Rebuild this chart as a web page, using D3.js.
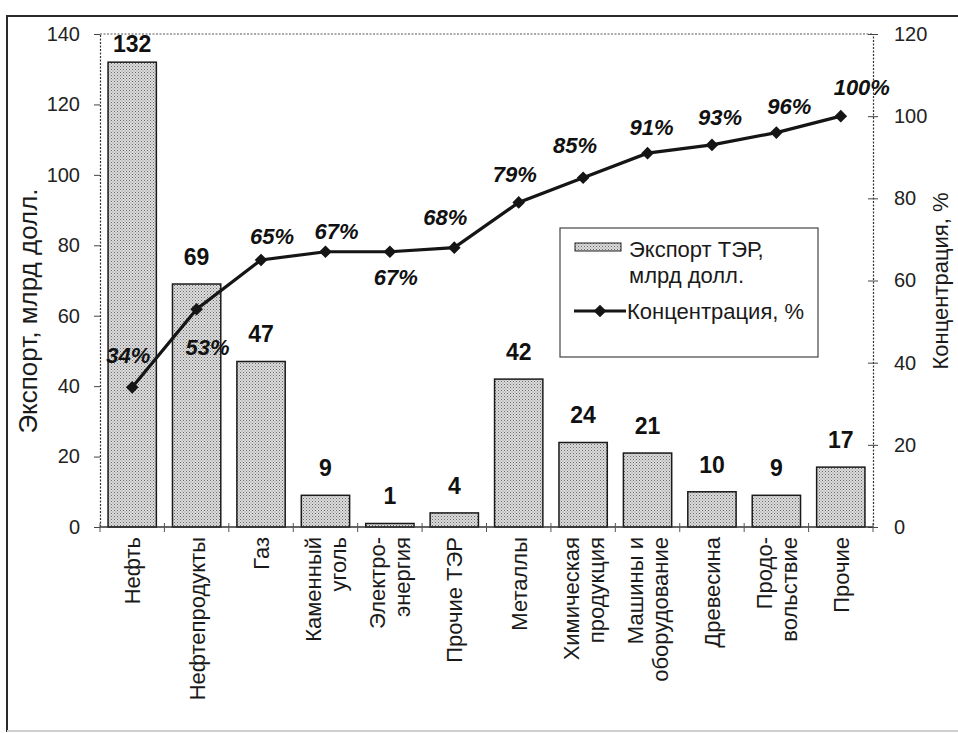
<!DOCTYPE html>
<html>
<head>
<meta charset="utf-8">
<script src="https://cdn.jsdelivr.net/npm/d3@7"></script>
<style>
  html, body { margin: 0; padding: 0; background: #fff; }
  svg { display: block; font-family: "Liberation Sans", Arial, sans-serif; }
</style>
</head>
<body>
<svg id="chart" width="958" height="733"></svg>
<script>
// Category names (each entry: label lines)
const categories = [
  ["Нефть"],
  ["Нефтепродукты"],
  ["Газ"],
  ["Каменный", "уголь"],
  ["Электро-", "энергия"],
  ["Прочие ТЭР"],
  ["Металлы"],
  ["Химическая", "продукция"],
  ["Машины и", "оборудование"],
  ["Древесина"],
  ["Продо-", "вольствие"],
  ["Прочие"]
];
// Export, bn USD
const exportValues = [132, 69, 47, 9, 1, 4, 42, 24, 21, 10, 9, 17];
// Cumulative concentration, %
const concentration = [34, 53, 65, 67, 67, 68, 79, 85, 91, 93, 96, 100];
const leftTicks = [0, 20, 40, 60, 80, 100, 120, 140];
const rightTicks = [0, 20, 40, 60, 80, 100, 120];
const barLegend = ["Экспорт ТЭР,", "млрд долл."];
const lineLegend = "Концентрация, %";
const leftTitle = "Экспорт, млрд долл.";
const rightTitle = "Концентрация, %";

const svg = d3.select("#chart");

// frame around the whole figure
svg.append("rect").attr("x", 7).attr("y", 16).attr("width", 960).attr("height", 715)
  .attr("fill", "none").attr("stroke", "#2a2a2a").attr("stroke-width", 2);
svg.append("line").attr("x1", 7).attr("x2", 958).attr("y1", 731).attr("y2", 731)
  .attr("stroke", "#cfcfcf").attr("stroke-width", 2);

// dotted fill for bars
const defs = svg.append("defs");
const pat = defs.append("pattern").attr("id", "dots").attr("patternUnits", "userSpaceOnUse")
  .attr("width", 3).attr("height", 3);
pat.append("rect").attr("width", 3).attr("height", 3).attr("fill", "#dcdcdc");
pat.append("rect").attr("x", 0).attr("y", 0).attr("width", 1).attr("height", 1).attr("fill", "#6a6a6a");
pat.append("rect").attr("x", 1.5).attr("y", 1.5).attr("width", 1).attr("height", 1).attr("fill", "#8a8a8a");

const plot = { left: 100, right: 873, top: 34, bottom: 527 };

const x = d3.scaleBand().domain(d3.range(categories.length))
  .range([plot.left, plot.right]).paddingInner(0.25).paddingOuter(0.125);
const yL = d3.scaleLinear().domain([0, 140]).range([plot.bottom, plot.top]);
const yR = d3.scaleLinear().domain([0, 120]).range([plot.bottom, plot.top]);

// plot area outline (dotted top and sides)
const dotted = "2,1.5";
svg.append("line").attr("x1", plot.left).attr("x2", plot.right).attr("y1", plot.top).attr("y2", plot.top)
  .attr("stroke", "#555").attr("stroke-width", 1).attr("stroke-dasharray", dotted);

// left axis
const gL = svg.append("g").attr("transform", `translate(${plot.left},0)`)
  .call(d3.axisLeft(yL).tickValues(leftTicks).tickSize(6).tickPadding(14));
gL.select(".domain").attr("stroke", "#333").attr("stroke-dasharray", dotted).attr("stroke-width", 1.2);
gL.selectAll(".tick line").attr("stroke", "#444");
gL.selectAll(".tick text").attr("font-size", 20).attr("fill", "#222")
  .attr("font-family", "Liberation Sans, Arial, sans-serif");

// right axis
const gR = svg.append("g").attr("transform", `translate(${plot.right},0)`)
  .call(d3.axisRight(yR).tickValues(rightTicks).tickSize(5).tickPadding(16));
gR.select(".domain").attr("stroke", "#333").attr("stroke-dasharray", dotted).attr("stroke-width", 1.2);
gR.selectAll(".tick line").attr("stroke", "#444").attr("x1", -5);
gR.selectAll(".tick text").attr("font-size", 20).attr("fill", "#222")
  .attr("font-family", "Liberation Sans, Arial, sans-serif");

// bars
svg.append("g").selectAll("rect").data(exportValues).join("rect")
  .attr("x", (d, i) => x(i))
  .attr("y", d => yL(d))
  .attr("width", x.bandwidth())
  .attr("height", d => yL(0) - yL(d))
  .attr("fill", "url(#dots)")
  .attr("stroke", "#1a1a1a").attr("stroke-width", 1.5);

// category axis
const step = x.step();
const gX = svg.append("g");
gX.append("line").attr("x1", plot.left).attr("x2", plot.right).attr("y1", plot.bottom).attr("y2", plot.bottom)
  .attr("stroke", "#333").attr("stroke-width", 1.5);
gX.selectAll("line.tick").data(d3.range(categories.length + 1)).join("line").attr("class", "tick")
  .attr("x1", i => plot.left + i * step).attr("x2", i => plot.left + i * step)
  .attr("y1", plot.bottom - 4).attr("y2", plot.bottom + 5)
  .attr("stroke", "#555").attr("stroke-width", 1);

// rotated category labels
const lineGap = 25;
categories.forEach((lines, i) => {
  const cx = x(i) + x.bandwidth() / 2;
  const n = lines.length;
  lines.forEach((t, k) => {
    const off = (k - (n - 1) / 2) * lineGap;
    svg.append("text")
      .attr("transform", `translate(${cx + off + 8},${plot.bottom + 10}) rotate(-90)`)
      .attr("text-anchor", "end")
      .attr("font-size", 22).attr("fill", "#1a1a1a")
      .text(t);
  });
});

// value labels over bars
svg.append("g").selectAll("text").data(exportValues).join("text")
  .attr("x", (d, i) => x(i) + x.bandwidth() / 2)
  .attr("y", d => Math.max(yL(d) - 19, plot.top + 18))
  .attr("text-anchor", "middle")
  .attr("font-size", 23).attr("font-weight", "bold").attr("fill", "#111")
  .text(d => d);

// concentration line
const cxAt = i => x(i) + x.bandwidth() / 2;
svg.append("path").datum(concentration)
  .attr("d", d3.line().x((d, i) => cxAt(i)).y(d => yR(d)))
  .attr("fill", "none").attr("stroke", "#151515").attr("stroke-width", 3.2);
svg.append("g").selectAll("path").data(concentration).join("path")
  .attr("d", d3.symbol(d3.symbolSquare, 80))
  .attr("transform", (d, i) => `translate(${cxAt(i)},${yR(d)}) rotate(45)`)
  .attr("fill", "#151515");

// percentage labels: offset of each label's centre from its point
const pctOffsets = [
  [-4, -32], [11, 38], [11, -24], [11, -21], [6, 25], [-9, -31],
  [-4, -28], [-8, -33], [4, -26], [8, -28], [13, -27], [21, -29]
];
svg.append("g").selectAll("text").data(concentration).join("text")
  .attr("x", (d, i) => cxAt(i) + pctOffsets[i][0])
  .attr("y", (d, i) => yR(d) + pctOffsets[i][1] + 8)
  .attr("text-anchor", "middle")
  .attr("font-size", 22).attr("font-weight", "bold").attr("font-style", "italic").attr("fill", "#111")
  .text(d => d + "%");

// axis titles
svg.append("text").attr("transform", "translate(37,311) rotate(-90)")
  .attr("text-anchor", "middle").attr("font-size", 26).attr("fill", "#1a1a1a").text(leftTitle);
svg.append("text").attr("transform", "translate(948,281) rotate(-90)")
  .attr("text-anchor", "middle").attr("font-size", 22).attr("fill", "#1a1a1a").text(rightTitle);

// legend
const lg = svg.append("g").attr("transform", "translate(560,228)");
lg.append("rect").attr("width", 258).attr("height", 129).attr("fill", "#fff")
  .attr("stroke", "#444").attr("stroke-width", 1.2);
lg.append("rect").attr("x", 15).attr("y", 15).attr("width", 46).attr("height", 8)
  .attr("fill", "url(#dots)").attr("stroke", "#222").attr("stroke-width", 1);
lg.append("text").attr("x", 69).attr("y", 29).attr("font-size", 22).attr("fill", "#1a1a1a").text(barLegend[0]);
lg.append("text").attr("x", 69).attr("y", 55).attr("font-size", 22).attr("fill", "#1a1a1a").text(barLegend[1]);
lg.append("line").attr("x1", 14).attr("x2", 66).attr("y1", 83).attr("y2", 83)
  .attr("stroke", "#151515").attr("stroke-width", 3.2);
lg.append("path").attr("d", d3.symbol(d3.symbolSquare, 80))
  .attr("transform", "translate(40,83) rotate(45)").attr("fill", "#151515");
lg.append("text").attr("x", 67).attr("y", 91).attr("font-size", 22).attr("fill", "#1a1a1a").text(lineLegend);
</script>
</body>
</html>
